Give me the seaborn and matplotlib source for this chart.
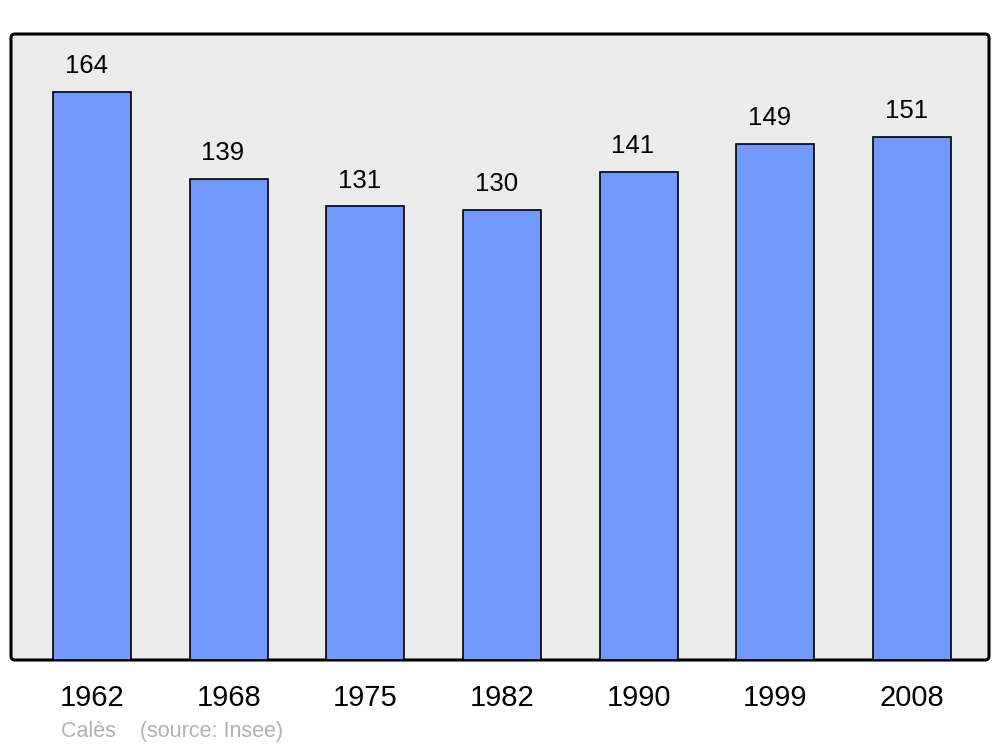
import matplotlib
matplotlib.use("Agg")
import matplotlib.pyplot as plt
from matplotlib.patches import FancyBboxPatch
import seaborn as sns
import pandas as pd

years = ["1962", "1968", "1975", "1982", "1990", "1999", "2008"]
population = [164, 139, 131, 130, 141, 149, 151]
caption = "Calès    (source: Insee)"

sns.set_style("white")
plt.rcParams["font.family"] = ["Liberation Sans", "DejaVu Sans"]

df = pd.DataFrame({"year": years, "pop": population})

fig = plt.figure(figsize=(10, 7.47), dpi=100)
ax = fig.add_axes([0.011, 87 / 747, 0.978, 626 / 747])
ax.patch.set_visible(False)
frame = FancyBboxPatch((0, 0), 1, 1, boxstyle="round,pad=0,rounding_size=0.004",
                       transform=ax.transAxes, facecolor="#ececec", edgecolor="black",
                       linewidth=2.2, zorder=0, clip_on=False, mutation_aspect=1.5)
ax.add_patch(frame)

sns.barplot(data=df, x="year", y="pop", color="#7399ff", saturation=1,
            width=0.57, edgecolor="black", linewidth=1.2, ax=ax, zorder=2)

for i, v in enumerate(population):
    ax.annotate(str(v), (i, v), xytext=(-4.3, 18.5), textcoords="offset points",
                ha="center", va="center", fontsize=18.5, color="black")

ax.set_xlim(-0.593, 6.563)
ax.set_ylim(0, 180.8)
ax.set_yticks([])
ax.set_xlabel("")
ax.set_ylabel("")
for s in ax.spines.values():
    s.set_visible(False)
ax.tick_params(axis="x", length=0, pad=17, labelsize=21, labelcolor="black")

fig.text(0.061, 1 - 732 / 747, caption, color="#b0b0b0", fontsize=15.5,
         ha="left", va="center")

fig.savefig("out.png", dpi=100)
